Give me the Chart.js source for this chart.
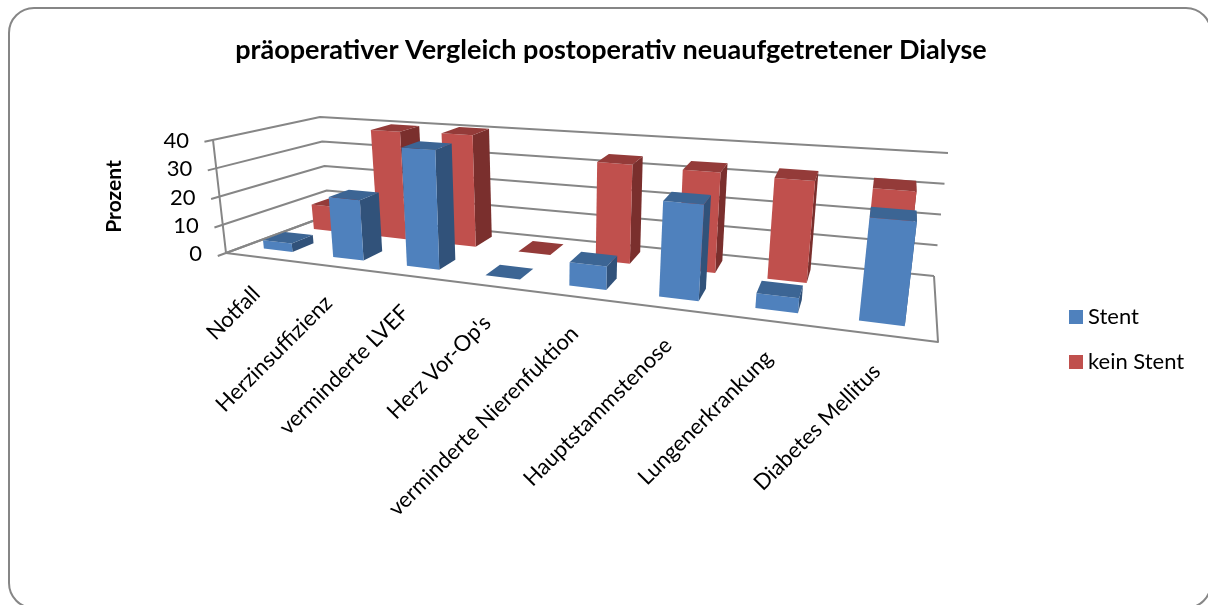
<!DOCTYPE html>
<html>
<head>
<meta charset="utf-8">
<script src="https://cdn.jsdelivr.net/npm/chart.js@4/dist/chart.umd.js"></script>
<style>
  html, body { margin: 0; padding: 0; background: #fff; overflow: hidden; }
  #wrap { position: relative; width: 1208px; height: 605px; overflow: hidden; }
  #frame { position: absolute; left: 8px; top: 7px; width: 1204px; height: 602px; box-sizing: border-box;
           border: 2px solid #868686; border-radius: 26px; }
  canvas { position: absolute; left: 0; top: 0; }
</style>
</head>
<body>
<div id="wrap">
  <div id="frame"></div>
  <canvas id="chart" width="1208" height="605"></canvas>
</div>
<script>
const categories = ["Notfall", "Herzinsuffizienz", "verminderte LVEF", "Herz Vor-Op's",
  "verminderte Nierenfuktion", "Hauptstammstenose", "Lungenerkrankung", "Diabetes Mellitus"];
const stent = [3, 21, 40.5, 0, 7.5, 30, 4.5, 30.5];
const keinStent = [9.5, 40, 40.5, 0, 34, 33.5, 33, 32];
const yTicks = [0, 10, 20, 30, 40];

const FONT = "Lato, 'Open Sans', sans-serif";
const GRID = "#868686";

// screen corners of the 3d box, named front/back left/right bottom/top
const box = {
  flb: [226, 253], frb: [938, 342], blb: [329, 215], brb: [934, 276],
  flt: [213, 140], frt: [956, 200], blt: [320, 117], brt: [948, 153],
};
const PERSPECTIVE = 1.31;
const depthSlots = [[0.18, 0.4], [0.68, 0.9]];
const faces = [
  { front: "#4F81BD", top: "#3C6594", side: "#31527A" },
  { front: "#C0504D", top: "#943B39", side: "#7A2F2D" },
];

const mix = (a, b, t) => [a[0] + (b[0] - a[0]) * t, a[1] + (b[1] - a[1]) * t];

// u along categories, v into the picture, w up the value axis (all 0..1)
const project = (u, v, w) => {
  const s = u / (u + (1 - u) * PERSPECTIVE);
  const bottom = mix(mix(box.flb, box.frb, s), mix(box.blb, box.brb, s), v);
  const top = mix(mix(box.flt, box.frt, s), mix(box.blt, box.brt, s), v);
  return mix(bottom, top, w);
};

const fillPoly = (ctx, pts, color) => {
  ctx.beginPath();
  pts.forEach((p, i) => (i ? ctx.lineTo(p[0], p[1]) : ctx.moveTo(p[0], p[1])));
  ctx.closePath();
  ctx.fillStyle = color;
  ctx.fill();
};

const strokeLine = (ctx, pts) => {
  ctx.beginPath();
  pts.forEach((p, i) => (i ? ctx.lineTo(p[0], p[1]) : ctx.moveTo(p[0], p[1])));
  ctx.stroke();
};

const drawWalls = (chart) => {
  const { ctx, scales: { y } } = chart;
  const range = y.bottom - y.top;
  ctx.save();
  ctx.strokeStyle = GRID;
  ctx.lineWidth = 2;
  ctx.lineJoin = "round";
  y.ticks.forEach(({ value }) => {
    const w = (y.bottom - y.getPixelForValue(value)) / range;
    strokeLine(ctx, [project(0, -0.08, w), project(0, 1, w), project(1, 1, w)]);
  });
  strokeLine(ctx, [project(0, 0, 1), project(0, 0, 0), project(1, 0, 0), project(1, 1, 0)]);
  strokeLine(ctx, [project(0, 0, 0), project(0, 1, 0)]);
  ctx.restore();
};

const drawBar = (ctx, chart, bar, slot, face) => {
  const { x, y } = chart.scales;
  const u0 = (bar.x - bar.width / 2 - x.left) / x.width;
  const u1 = (bar.x + bar.width / 2 - x.left) / x.width;
  const w = (y.bottom - bar.y) / (y.bottom - y.top);
  const [v0, v1] = slot;
  const flat = w < 0.002;
  if (!flat) {
    fillPoly(ctx, [project(u1, v0, 0), project(u1, v1, 0), project(u1, v1, w), project(u1, v0, w)], face.side);
    fillPoly(ctx, [project(u0, v0, 0), project(u1, v0, 0), project(u1, v0, w), project(u0, v0, w)], face.front);
  }
  fillPoly(ctx, [project(u0, v0, w), project(u1, v0, w), project(u1, v1, w), project(u0, v1, w)], face.top);
};

// the value labels follow the slanted front edge, the category labels the floor edge
const drawAxisLabels = (chart) => {
  const { ctx, scales: { x, y } } = chart;
  ctx.save();
  ctx.font = "22px " + FONT;
  ctx.fillStyle = "#000";
  ctx.textAlign = "right";
  ctx.textBaseline = "middle";
  y.ticks.forEach(({ value }) => {
    const p = project(0, 0, (y.bottom - y.getPixelForValue(value)) / (y.bottom - y.top));
    ctx.fillText(String(value), p[0] - 24, p[1] + 1);
  });
  categories.forEach((label, i) => {
    const p = project((x.getPixelForValue(i) - x.left) / x.width, 0, 0);
    ctx.save();
    ctx.translate(p[0] - 4, p[1] + 33);
    ctx.rotate(-Math.PI / 4);
    ctx.fillText(label, 0, 0);
    ctx.restore();
  });
  ctx.restore();
};

// draws the bars as boxes from the positions the bar controller computed
const box3d = {
  id: "box3d",
  afterLayout(chart) {
    const legend = chart.legend;
    legend.left = 1052;
    legend.top = 283;
    legend.bottom = 400;
  },
  beforeDatasetsDraw(chart) {
    const { ctx } = chart;
    drawWalls(chart);
    [1, 0].forEach((ds) => {
      chart.getDatasetMeta(ds).data.forEach((bar) => drawBar(ctx, chart, bar, depthSlots[ds], faces[ds]));
    });
    drawAxisLabels(chart);
    return false;
  },
};

new Chart(document.getElementById("chart"), {
  type: "bar",
  data: {
    labels: categories,
    datasets: [
      // border only thickens the legend swatch, keeps its label close to it like the original
      { label: "Stent", data: stent, backgroundColor: faces[0].front, borderColor: faces[0].front, borderWidth: 12 },
      { label: "kein Stent", data: keinStent, backgroundColor: faces[1].front, borderColor: faces[1].front, borderWidth: 12 },
    ],
  },
  options: {
    responsive: false,
    animation: false,
    grouped: false,
    barPercentage: 0.42,
    categoryPercentage: 1,
    layout: { padding: { left: 14, right: 0, top: 0, bottom: 352 } },
    scales: {
      x: { display: false },
      y: {
        min: 0,
        max: 40,
        afterBuildTicks: (axis) => { axis.ticks = yTicks.map((value) => ({ value })); },
        grid: { display: false },
        border: { display: false },
        ticks: { display: false },
        title: { display: true, text: "Prozent", color: "#000", font: { family: FONT, size: 21, weight: "bold" }, padding: { top: 88, bottom: 48 } },
      },
    },
    plugins: {
      tooltip: { enabled: false },
      title: {
        display: true,
        text: "präoperativer Vergleich postoperativ neuaufgetretener Dialyse",
        color: "#000",
        font: { family: FONT, size: 27, weight: "bold" },
        padding: { top: 34, bottom: 73.6 },
      },
      legend: {
        position: "right",
        align: "start",
        labels: { boxWidth: 2, boxHeight: 2, padding: 23, color: "#000", font: { family: FONT, size: 22 } },
      },
    },
  },
  plugins: [box3d],
});
</script>
</body>
</html>
